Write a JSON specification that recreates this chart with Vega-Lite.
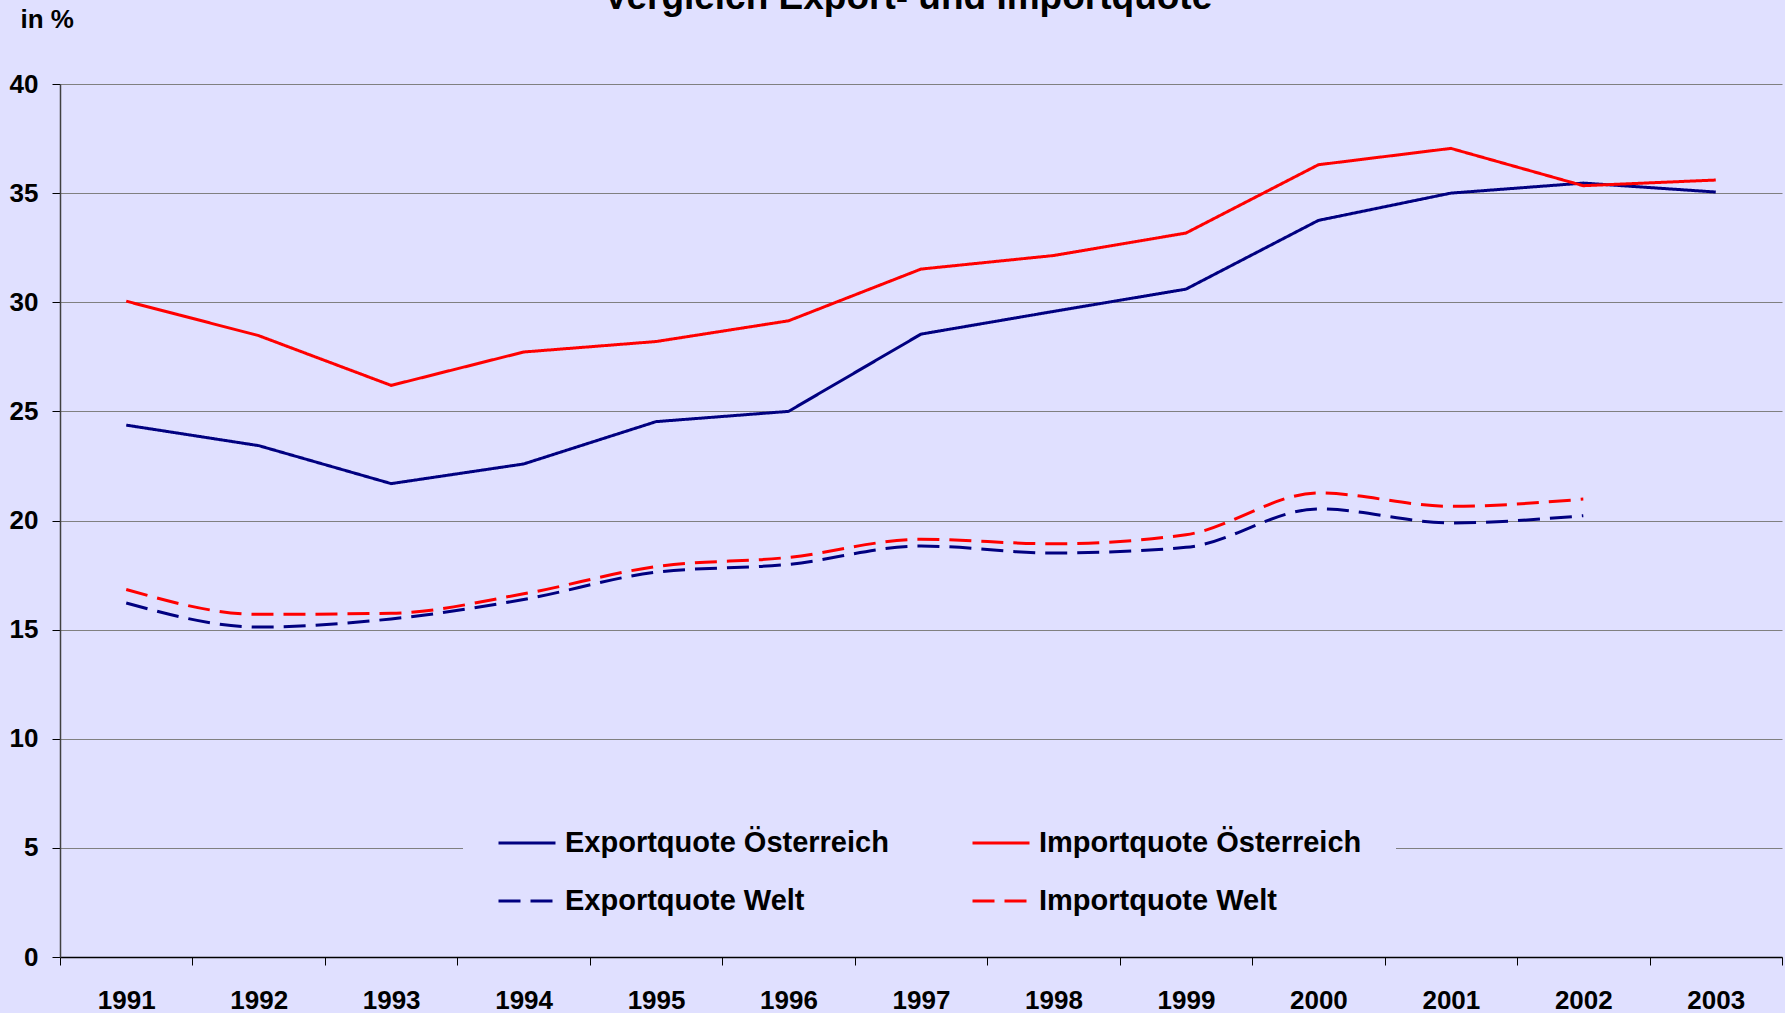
{
  "$schema": "https://vega.github.io/schema/vega-lite/v6.json",
  "width": 1722,
  "height": 873,
  "autosize": {"type": "none"},
  "padding": {"left": 60, "top": 84, "right": 3, "bottom": 56},
  "background": "#E0E0FF",
  "title": {
    "text": "Vergleich Export- und Importquote",
    "font": "Liberation Sans",
    "fontSize": 37,
    "fontWeight": "bold",
    "color": "#000000",
    "anchor": "middle",
    "frame": "group",
    "baseline": "alphabetic",
    "offset": 0,
    "dy": 40,
    "dx": -13
  },
  "config": {
    "view": {"stroke": null},
    "font": "Liberation Sans",
    "axis": {
      "labelFont": "Liberation Sans",
      "labelFontWeight": "bold",
      "labelFontSize": 26,
      "labelColor": "#000000",
      "domainColor": "#000000",
      "tickColor": "#000000",
      "titleFont": "Liberation Sans",
      "titleColor": "#000000"
    }
  },
  "data": {
    "values": [
      {"year": "1991", "series": "Exportquote Österreich", "value": 24.37},
      {"year": "1992", "series": "Exportquote Österreich", "value": 23.43},
      {"year": "1993", "series": "Exportquote Österreich", "value": 21.69},
      {"year": "1994", "series": "Exportquote Österreich", "value": 22.59},
      {"year": "1995", "series": "Exportquote Österreich", "value": 24.53},
      {"year": "1996", "series": "Exportquote Österreich", "value": 25.0},
      {"year": "1997", "series": "Exportquote Österreich", "value": 28.54},
      {"year": "1998", "series": "Exportquote Österreich", "value": 29.58},
      {"year": "1999", "series": "Exportquote Österreich", "value": 30.6},
      {"year": "2000", "series": "Exportquote Österreich", "value": 33.75},
      {"year": "2001", "series": "Exportquote Österreich", "value": 35.0},
      {"year": "2002", "series": "Exportquote Österreich", "value": 35.46},
      {"year": "2003", "series": "Exportquote Österreich", "value": 35.05},
      {"year": "1991", "series": "Importquote Österreich", "value": 30.05},
      {"year": "1992", "series": "Importquote Österreich", "value": 28.47},
      {"year": "1993", "series": "Importquote Österreich", "value": 26.19},
      {"year": "1994", "series": "Importquote Österreich", "value": 27.72},
      {"year": "1995", "series": "Importquote Österreich", "value": 28.2},
      {"year": "1996", "series": "Importquote Österreich", "value": 29.15},
      {"year": "1997", "series": "Importquote Österreich", "value": 31.52},
      {"year": "1998", "series": "Importquote Österreich", "value": 32.14},
      {"year": "1999", "series": "Importquote Österreich", "value": 33.17},
      {"year": "2000", "series": "Importquote Österreich", "value": 36.3},
      {"year": "2001", "series": "Importquote Österreich", "value": 37.05},
      {"year": "2002", "series": "Importquote Österreich", "value": 35.34},
      {"year": "2003", "series": "Importquote Österreich", "value": 35.6},
      {"year": "1991", "series": "Exportquote Welt", "value": 16.22},
      {"year": "1992", "series": "Exportquote Welt", "value": 15.12},
      {"year": "1993", "series": "Exportquote Welt", "value": 15.49},
      {"year": "1994", "series": "Exportquote Welt", "value": 16.38},
      {"year": "1995", "series": "Exportquote Welt", "value": 17.63},
      {"year": "1996", "series": "Exportquote Welt", "value": 17.99},
      {"year": "1997", "series": "Exportquote Welt", "value": 18.83},
      {"year": "1998", "series": "Exportquote Welt", "value": 18.51},
      {"year": "1999", "series": "Exportquote Welt", "value": 18.77},
      {"year": "2000", "series": "Exportquote Welt", "value": 20.53},
      {"year": "2001", "series": "Exportquote Welt", "value": 19.89},
      {"year": "2002", "series": "Exportquote Welt", "value": 20.22},
      {"year": "1991", "series": "Importquote Welt", "value": 16.84},
      {"year": "1992", "series": "Importquote Welt", "value": 15.7},
      {"year": "1993", "series": "Importquote Welt", "value": 15.75},
      {"year": "1994", "series": "Importquote Welt", "value": 16.64},
      {"year": "1995", "series": "Importquote Welt", "value": 17.89},
      {"year": "1996", "series": "Importquote Welt", "value": 18.31},
      {"year": "1997", "series": "Importquote Welt", "value": 19.14},
      {"year": "1998", "series": "Importquote Welt", "value": 18.93},
      {"year": "1999", "series": "Importquote Welt", "value": 19.35},
      {"year": "2000", "series": "Importquote Welt", "value": 21.26},
      {"year": "2001", "series": "Importquote Welt", "value": 20.65},
      {"year": "2002", "series": "Importquote Welt", "value": 20.98}
    ]
  },
  "encoding": {
    "x": {
      "field": "year",
      "type": "ordinal",
      "bandPosition": 0.5,
      "scale": {"type": "band", "paddingInner": 0, "paddingOuter": 0},
      "axis": {
        "title": null,
        "labelAngle": 0,
        "tickBand": "extent",
        "tickSize": 8,
        "labelPadding": 22,
        "grid": false,
        "domainWidth": 1.5
      }
    },
    "y": {
      "field": "value",
      "type": "quantitative",
      "scale": {"domain": [0, 40], "nice": false, "zero": true},
      "axis": {
        "values": [0, 5, 10, 15, 20, 25, 30, 35, 40],
        "title": "in %",
        "titleAngle": 0,
        "titleAlign": "left",
        "titleBaseline": "alphabetic",
        "titleX": -40,
        "titleY": -57,
        "titleFontSize": 26,
        "titleFontWeight": "bold",
        "tickSize": 8,
        "labelPadding": 14,
        "grid": true,
        "gridColor": "#808080",
        "gridWidth": 1,
        "domainColor": "#404040",
        "domainWidth": 1.5
      }
    },
    "color": {
      "field": "series",
      "type": "nominal",
      "scale": {
        "domain": ["Exportquote Österreich", "Exportquote Welt", "Importquote Österreich", "Importquote Welt"],
        "range": ["#000080", "#000080", "#FF0000", "#FF0000"]
      },
      "legend": {
        "title": null,
        "orient": "none",
        "legendX": 403,
        "legendY": 695,
        "columns": 2,
        "columnPadding": 77,
        "rowPadding": 13,
        "padding": 34,
        "fillColor": "#E0E0FF",
        "symbolType": "stroke",
        "symbolSize": 3249,
        "symbolStrokeWidth": 3,
        "labelFont": "Liberation Sans",
        "labelFontSize": 29,
        "labelFontWeight": "bold",
        "labelColor": "#000000",
        "labelOffset": 8,
        "labelLimit": 0
      }
    },
    "strokeDash": {
      "field": "series",
      "type": "nominal",
      "scale": {
        "domain": ["Exportquote Österreich", "Exportquote Welt", "Importquote Österreich", "Importquote Welt"],
        "range": [[1, 0], [22, 10], [1, 0], [22, 10]]
      }
    }
  },
  "layer": [
    {
      "transform": [{"filter": {"field": "series", "oneOf": ["Exportquote Österreich", "Importquote Österreich"]}}],
      "mark": {"type": "line", "strokeWidth": 3}
    },
    {
      "transform": [{"filter": {"field": "series", "oneOf": ["Exportquote Welt", "Importquote Welt"]}}],
      "mark": {"type": "line", "strokeWidth": 3, "interpolate": "monotone"}
    }
  ]
}
